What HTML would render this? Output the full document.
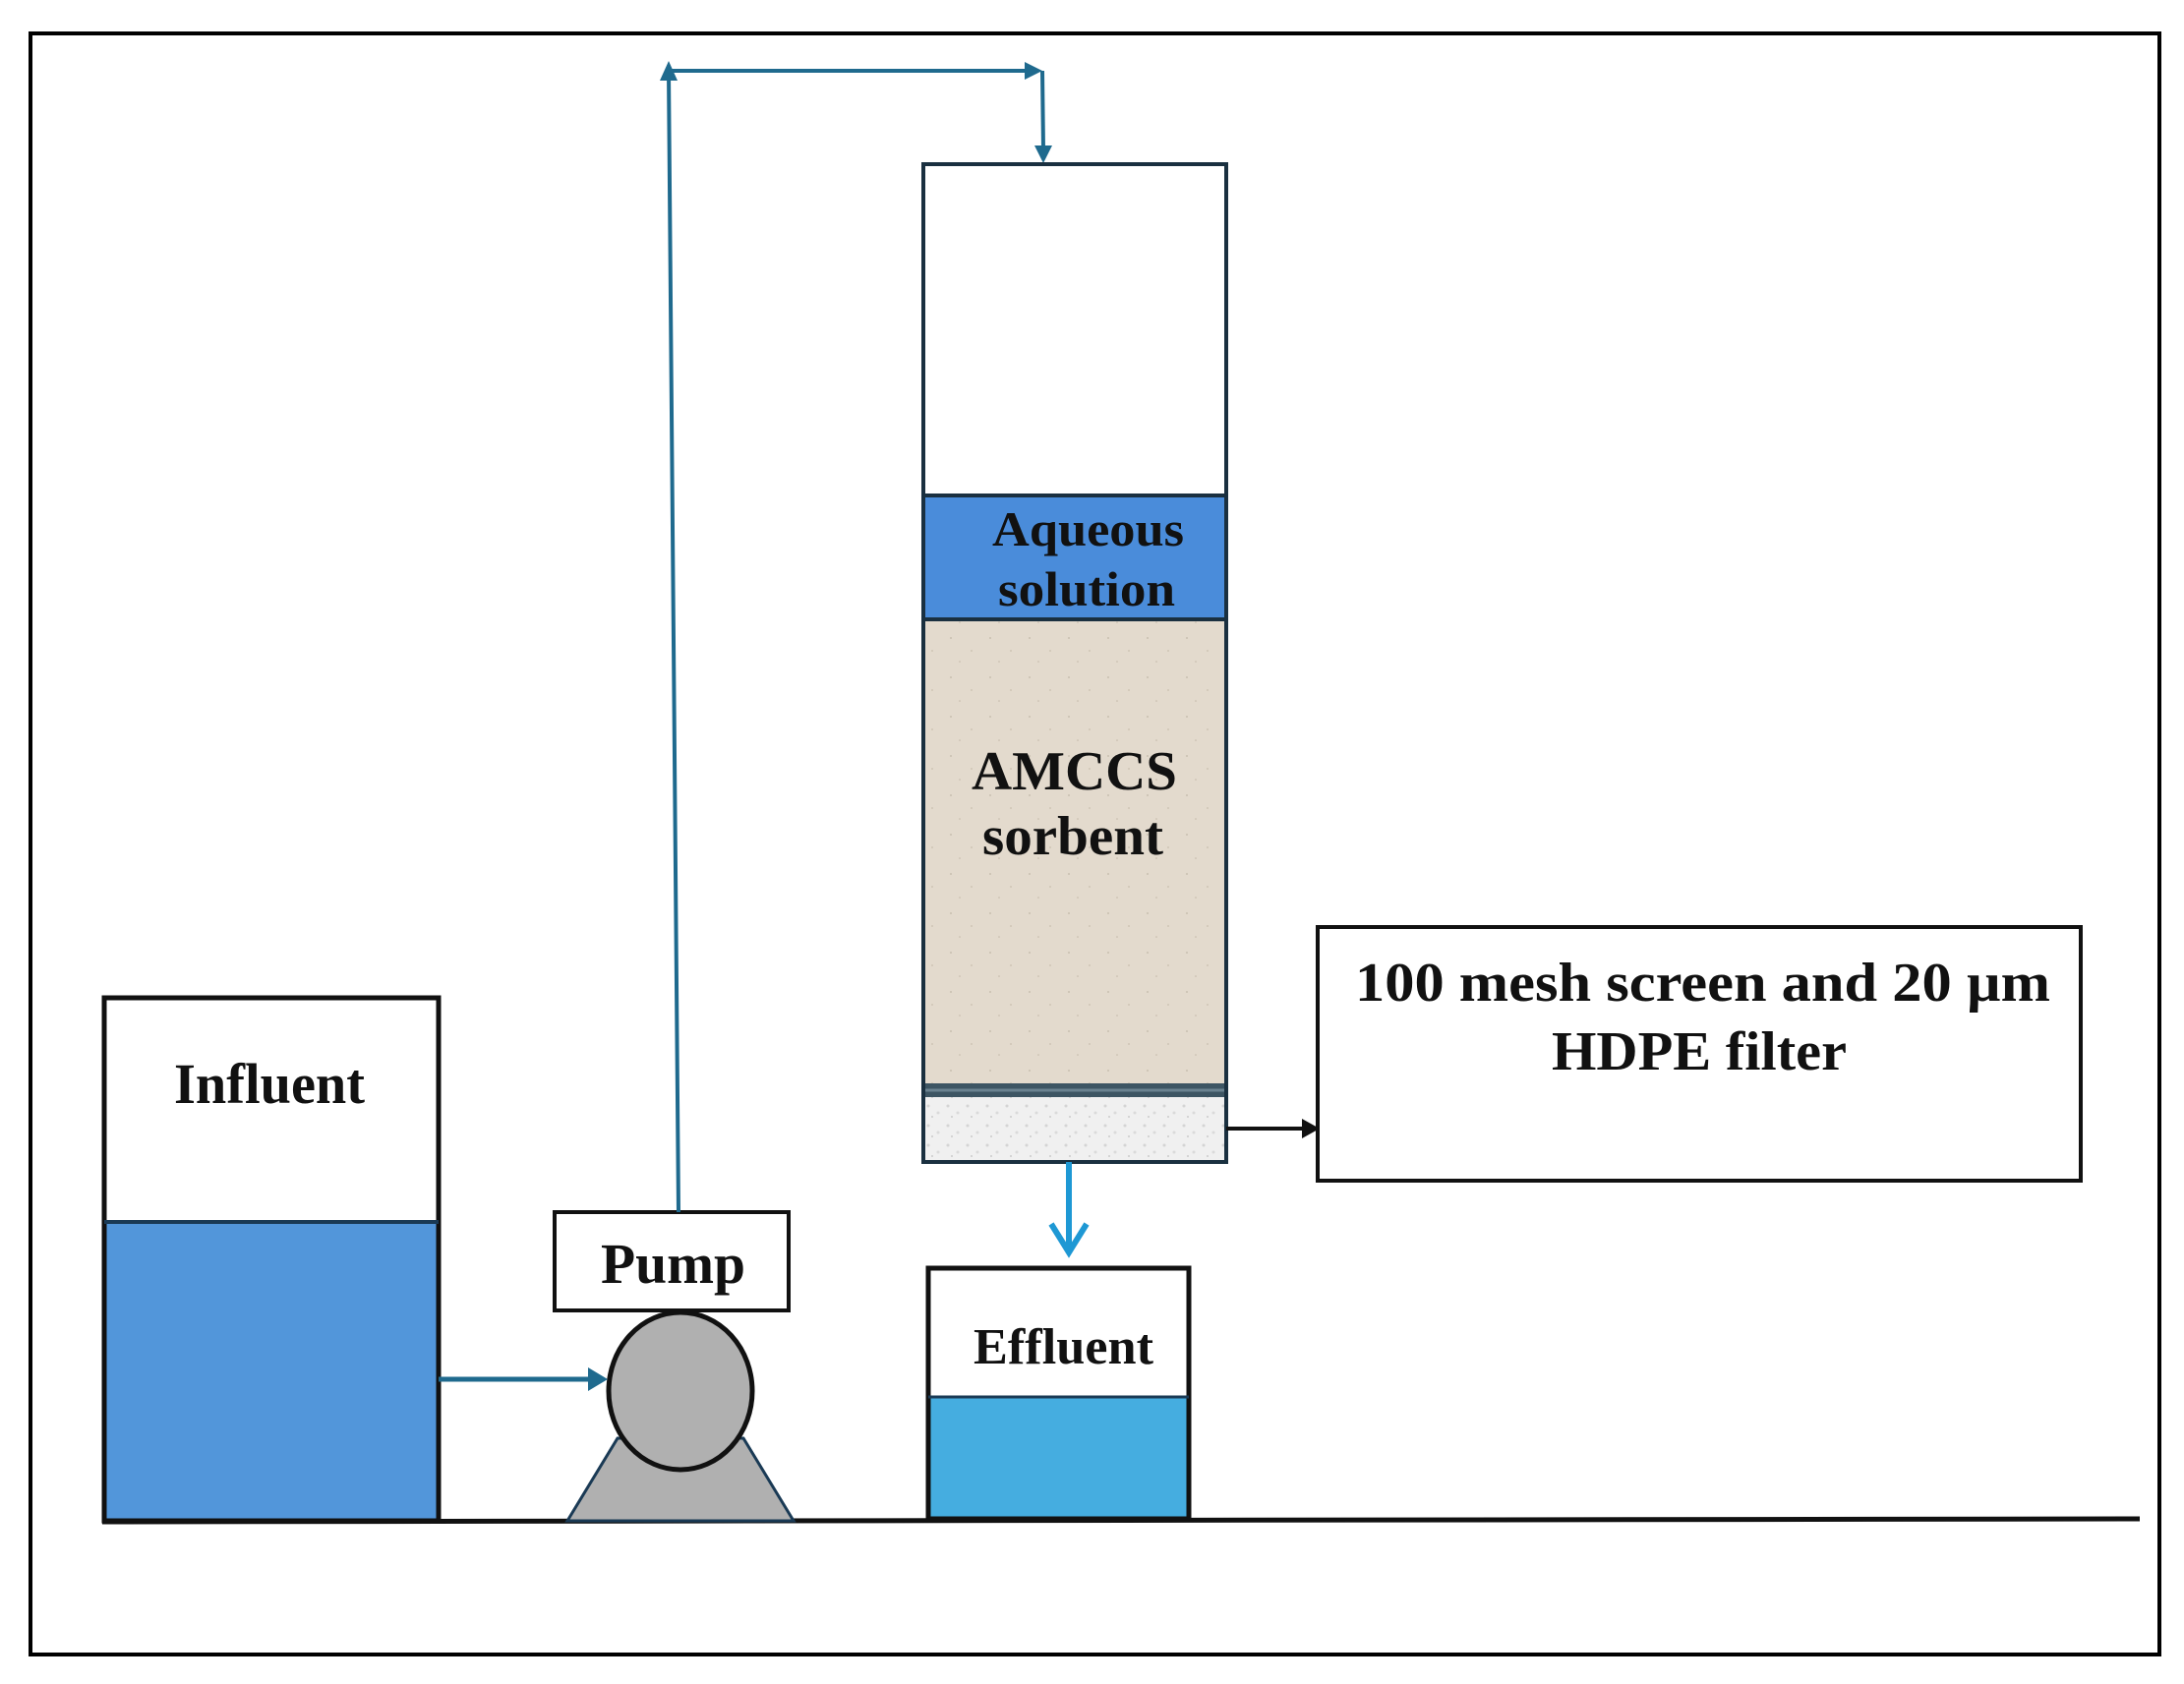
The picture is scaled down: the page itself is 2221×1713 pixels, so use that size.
<!DOCTYPE html>
<html><head><meta charset="utf-8"><style>html,body{margin:0;padding:0;background:#fff}svg{display:block}</style></head>
<body>
<svg width="2221" height="1713" viewBox="0 0 2221 1713" xmlns="http://www.w3.org/2000/svg">
<defs>
<pattern id="sand" width="40" height="40" patternUnits="userSpaceOnUse">
<rect width="40" height="40" fill="#e3dacd"/>
<circle cx="7" cy="9" r="1" fill="#c9bfb0"/><circle cx="28" cy="22" r="1" fill="#cfc5b6"/><circle cx="16" cy="33" r="0.8" fill="#c4b9aa"/>
</pattern>
<pattern id="grit" width="20" height="20" patternUnits="userSpaceOnUse">
<rect width="20" height="20" fill="#f0f0f0"/>
<circle cx="4" cy="5" r="1.5" fill="#d4d4d4"/><circle cx="14" cy="12" r="1.5" fill="#dadada"/><circle cx="8" cy="16" r="1" fill="#cccccc"/>
</pattern>
</defs>
<rect x="31" y="34" width="2165" height="1649" fill="#fff" stroke="#000" stroke-width="4"/>
<g font-family="Liberation Serif, serif" font-weight="bold" fill="#111">
<rect x="106" y="1243" width="340" height="304" fill="#5296da"/>
<rect x="106" y="1015" width="340" height="532" fill="none" stroke="#111" stroke-width="5"/>
<line x1="106" y1="1243" x2="446" y2="1243" stroke="#1a3a55" stroke-width="4"/>
<text x="177" y="1122" font-size="58" textLength="194" lengthAdjust="spacingAndGlyphs">Influent</text>
<line x1="104" y1="1548" x2="2176" y2="1545" stroke="#111" stroke-width="5"/>
<polygon points="577,1547 628,1463 756,1463 807,1547" fill="#b0b0b0" stroke="#1a3a55" stroke-width="3"/>
<ellipse cx="692" cy="1415" rx="73" ry="80" fill="#b0b0b0" stroke="#111" stroke-width="5"/>
<rect x="564" y="1233" width="238" height="100" fill="#fff" stroke="#111" stroke-width="4"/>
<text x="611" y="1305" font-size="58" textLength="147" lengthAdjust="spacingAndGlyphs">Pump</text>
<line x1="446" y1="1403" x2="605" y2="1403" stroke="#1f6a8e" stroke-width="5"/>
<polygon points="618,1403 598,1391 598,1415" fill="#1f6a8e"/>
<polyline points="690,1233 680,72 1048,72" fill="none" stroke="#1f6a8e" stroke-width="4"/>
<polygon points="680,62 671,82 689,82" fill="#1f6a8e"/>
<polygon points="1060,72 1042,63 1042,81" fill="#1f6a8e"/>
<line x1="1060" y1="72" x2="1061" y2="152" stroke="#1f6a8e" stroke-width="4"/>
<polygon points="1061,166 1052,148 1070,148" fill="#1f6a8e"/>
<rect x="939" y="167" width="308" height="1015" fill="#fff"/>
<rect x="939" y="504" width="308" height="126" fill="#4a8cda"/>
<rect x="939" y="630" width="308" height="472" fill="url(#sand)"/>
<rect x="939" y="1102" width="308" height="14" fill="#3d5563"/>
<line x1="939" y1="1109" x2="1247" y2="1109" stroke="#6a8290" stroke-width="3"/>
<rect x="939" y="1116" width="308" height="66" fill="url(#grit)"/>
<line x1="939" y1="504" x2="1247" y2="504" stroke="#1a3040" stroke-width="4"/>
<line x1="939" y1="630" x2="1247" y2="630" stroke="#1a3040" stroke-width="4"/>
<rect x="939" y="167" width="308" height="1015" fill="none" stroke="#1a3040" stroke-width="4"/>
<text x="1009" y="555" font-size="50" textLength="195" lengthAdjust="spacingAndGlyphs">Aqueous</text>
<text x="1015" y="616" font-size="50" textLength="180" lengthAdjust="spacingAndGlyphs">solution</text>
<text x="988" y="803" font-size="56" textLength="209" lengthAdjust="spacingAndGlyphs">AMCCS</text>
<text x="999" y="869" font-size="56" textLength="184" lengthAdjust="spacingAndGlyphs">sorbent</text>
<line x1="1247" y1="1148" x2="1328" y2="1148" stroke="#111" stroke-width="4"/>
<polygon points="1342,1148 1324,1138 1324,1158" fill="#111"/>
<rect x="1340" y="943" width="776" height="258" fill="#fff" stroke="#111" stroke-width="4"/>
<text x="1378" y="1018" font-size="56" textLength="707" lengthAdjust="spacingAndGlyphs">100 mesh screen and 20 µm</text>
<text x="1578" y="1088" font-size="56" textLength="300" lengthAdjust="spacingAndGlyphs">HDPE filter</text>
<line x1="1087" y1="1182" x2="1087" y2="1270" stroke="#1e98d4" stroke-width="6"/>
<polyline points="1069,1245 1087,1274 1105,1245" fill="none" stroke="#1e98d4" stroke-width="6"/>
<rect x="944" y="1421" width="265" height="124" fill="#45ade0"/>
<rect x="944" y="1290" width="265" height="255" fill="none" stroke="#111" stroke-width="5"/>
<line x1="944" y1="1421" x2="1209" y2="1421" stroke="#1a3a55" stroke-width="3"/>
<text x="990" y="1387" font-size="52" textLength="183" lengthAdjust="spacingAndGlyphs">Effluent</text>
</g>
</svg>
</body></html>
